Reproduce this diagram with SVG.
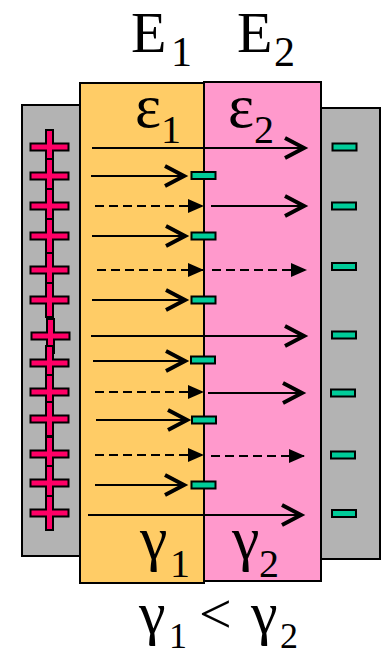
<svg xmlns="http://www.w3.org/2000/svg" width="384" height="656" viewBox="0 0 384 656">
<style>
.plate{fill:#b3b3b3;stroke:#000;stroke-width:2}
.d1{fill:#ffcc66;stroke:#000;stroke-width:2}
.d2{fill:#ff99cc;stroke:#000;stroke-width:2}
.plus{fill:#ff0066;stroke:#000;stroke-width:2}
.minus{fill:#00cc99;stroke:#000;stroke-width:2}
.ar{stroke:#000;stroke-width:2;fill:none}
.da{stroke-dasharray:9 5}
</style>
<defs>
<path id="plusShape" class="plus" d="M-3.5,-17 h7 v13.5 h15.5 v7 h-15.5 v13.5 h-7 v-13.5 h-15.5 v-7 h15.5 z"/>
<rect id="minusShape" class="minus" x="-12" y="-3.5" width="24" height="7"/>
<marker id="open" markerUnits="userSpaceOnUse" markerWidth="26" markerHeight="26" viewBox="-23 -13 26 26" refX="0" refY="0" orient="auto" overflow="visible">
<path d="M-20,-10 L-1,0 L-20,10" fill="none" stroke="#000" stroke-width="4"/>
</marker>
<marker id="tri" markerUnits="userSpaceOnUse" markerWidth="20" markerHeight="16" viewBox="-18 -8 20 16" refX="0" refY="0" orient="auto" overflow="visible">
<path d="M-16,-7 L0,0 L-16,7 z" fill="#000"/>
</marker>
</defs>

<g id="plate-left"><rect class="plate" x="22" y="105" width="58" height="451"/></g>
<g id="plate-right"><rect class="plate" x="321" y="108" width="59" height="451"/></g>
<g id="dielectric-1"><rect class="d1" x="80" y="83" width="124" height="500"/></g>
<g id="dielectric-2"><rect class="d2" x="204" y="82" width="117" height="499"/></g>

<g id="labels" font-family="Liberation Serif, serif" fill="#000">
<text x="131" y="52" font-size="58">E</text><text x="171" y="66" font-size="42">1</text>
<text x="237" y="52" font-size="58">E</text><text x="274" y="66" font-size="42">2</text>
<text x="135" y="127" font-size="62">ε</text><text x="161" y="143" font-size="40">1</text>
<text x="228" y="127" font-size="62">ε</text><text x="254" y="143" font-size="40">2</text>
<text x="140" y="559" font-size="62">γ</text><text x="170" y="577" font-size="40">1</text>
<text x="232" y="559" font-size="62">γ</text><text x="259" y="577" font-size="40">2</text>
<text x="139" y="633" font-size="60">γ</text><text x="169" y="648" font-size="36">1</text>
<text x="199" y="633" font-size="58">&lt;</text>
<text x="251" y="633" font-size="60">γ</text><text x="280" y="648" font-size="36">2</text>
</g>

<g id="connectors">
<line class="ar" x1="92" y1="148" x2="305" y2="148" marker-end="url(#open)"/>
<line class="ar" x1="91" y1="336" x2="305" y2="336" marker-end="url(#open)"/>
<line class="ar" x1="88" y1="515" x2="302" y2="515" marker-end="url(#open)"/>
<line class="ar" x1="91" y1="176" x2="185" y2="176" marker-end="url(#open)"/>
<line class="ar" x1="92" y1="236" x2="186" y2="236" marker-end="url(#open)"/>
<line class="ar" x1="92" y1="300" x2="186" y2="300" marker-end="url(#open)"/>
<line class="ar" x1="93" y1="361" x2="186" y2="361" marker-end="url(#open)"/>
<line class="ar" x1="96" y1="420" x2="188" y2="420" marker-end="url(#open)"/>
<line class="ar" x1="95" y1="485" x2="185" y2="485" marker-end="url(#open)"/>
<line class="ar da" x1="95" y1="206" x2="204" y2="206" marker-end="url(#tri)"/>
<line class="ar da" x1="97" y1="270" x2="204" y2="270" marker-end="url(#tri)"/>
<line class="ar da" x1="95" y1="392" x2="204" y2="392" marker-end="url(#tri)"/>
<line class="ar da" x1="95" y1="455" x2="204" y2="455" marker-end="url(#tri)"/>
<line class="ar" x1="211" y1="206" x2="305" y2="206" marker-end="url(#open)"/>
<line class="ar" x1="208" y1="393" x2="303" y2="393" marker-end="url(#open)"/>
<line class="ar da" x1="212" y1="270" x2="307" y2="270" marker-end="url(#tri)"/>
<line class="ar da" x1="211" y1="456" x2="305" y2="456" marker-end="url(#tri)"/>
</g>

<g id="interface"><line x1="204" y1="83" x2="204" y2="583" stroke="#000" stroke-width="2"/></g>

<g id="charges-plus">
<use href="#plusShape" x="49.5" y="147"/>
<use href="#plusShape" x="49.5" y="176"/>
<use href="#plusShape" x="49.5" y="206"/>
<use href="#plusShape" x="49.5" y="236"/>
<use href="#plusShape" x="49.5" y="270"/>
<use href="#plusShape" x="49.5" y="300"/>
<use href="#plusShape" x="50.5" y="336"/>
<use href="#plusShape" x="49.5" y="363"/>
<use href="#plusShape" x="49.5" y="392"/>
<use href="#plusShape" x="49.5" y="419"/>
<use href="#plusShape" x="49.5" y="454"/>
<use href="#plusShape" x="49.5" y="483"/>
<use href="#plusShape" x="49.5" y="513"/>
</g>

<g id="charges-minus-interface">
<use href="#minusShape" x="203.5" y="175.5"/>
<use href="#minusShape" x="203.5" y="236"/>
<use href="#minusShape" x="203.5" y="300"/>
<use href="#minusShape" x="203" y="360"/>
<use href="#minusShape" x="204" y="420"/>
<use href="#minusShape" x="203.5" y="485"/>
</g>

<g id="charges-minus-plate">
<use href="#minusShape" x="344.5" y="147"/>
<use href="#minusShape" x="344" y="206"/>
<use href="#minusShape" x="344" y="266.5"/>
<use href="#minusShape" x="344" y="335"/>
<use href="#minusShape" x="343" y="393"/>
<use href="#minusShape" x="343" y="455"/>
<use href="#minusShape" x="344" y="513.5"/>
</g>
</svg>
